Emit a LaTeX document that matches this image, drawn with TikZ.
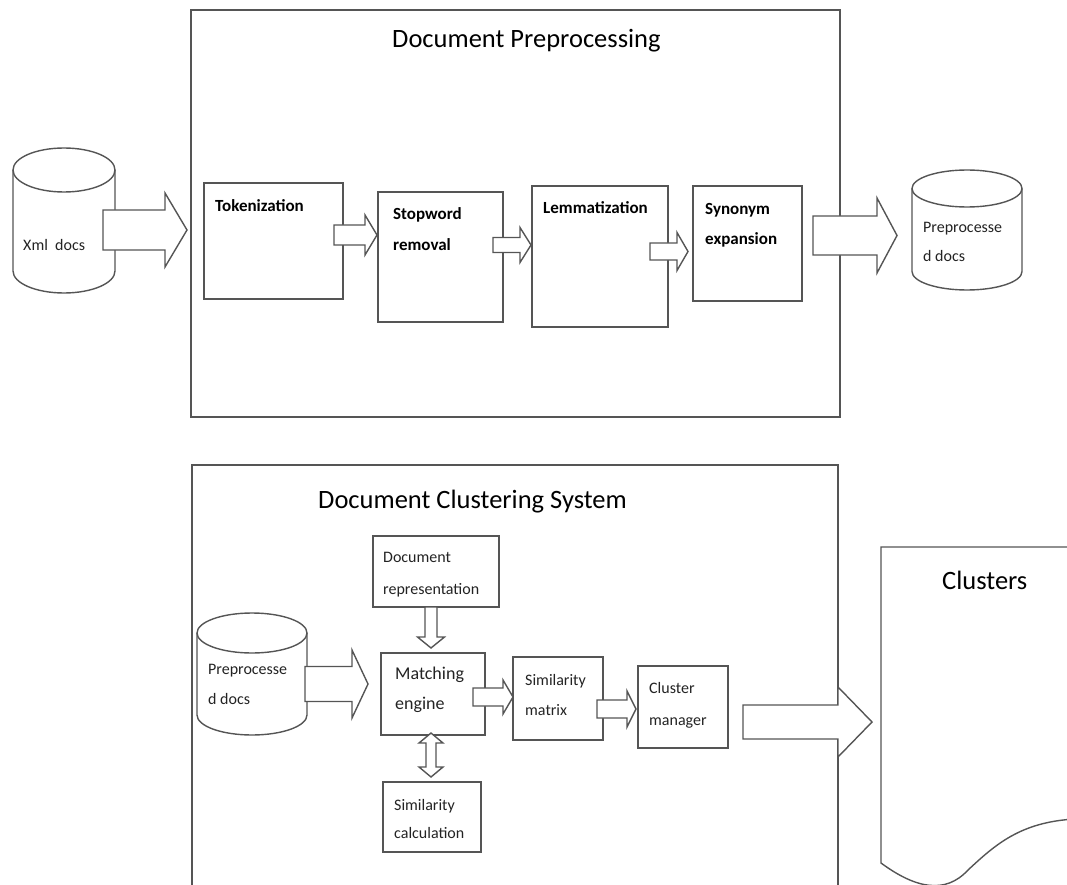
\documentclass[tikz,border=0pt]{standalone}
\usepackage{fontspec}
\setmainfont{Carlito}
\usepackage{xcolor}
\usepackage{tikz}
\usetikzlibrary{positioning, calc}

\definecolor{linegray}{RGB}{85,85,85}
\definecolor{textgray}{RGB}{35,35,35}

% block arrows: start, length, body half width, head half width, head length
\newcommand{\harrow}[5]{%
  \draw[blockarrow] #1 ++(0,-#3) -- ++({#2-#5},0) -- ++(0,{#3-#4}) -- ++(#5,#4)
    -- ++(-#5,#4) -- ++(0,{#3-#4}) -- ++({#5-#2},0) -- cycle;}
\newcommand{\varrow}[5]{%
  \draw[blockarrow] #1 ++(-#3,0) -- ++(0,{#2-#5}) -- ++({#3-#4},0) -- ++(#4,#5)
    -- ++(#4,-#5) -- ++({#3-#4},0) -- ++(0,{#5-#2}) -- cycle;}
\newcommand{\dvarrow}[5]{%
  \draw[blockarrow] #1 -- ++(-#4,#5) -- ++({#4-#3},0) -- ++(0,{#2-2*#5}) -- ++({#3-#4},0)
    -- ++(#4,#5) -- ++(#4,-#5) -- ++({#3-#4},0) -- ++(0,{2*#5-#2}) -- ++({#4-#3},0) -- cycle;}
% database drum: centre x, top y, bottom y, x radius, y radius
\newcommand{\dbcyl}[5]{%
  \draw[outline, fill=white] (#1-#4,#2) -- (#1-#4,#3) arc[start angle=180, end angle=0, x radius=#4, y radius=#5] -- (#1+#4,#2);
  \draw[outline] (#1,#2) ellipse[x radius=#4, y radius=#5];}

\begin{document}
\begin{tikzpicture}[
        x=1pt, y=-1pt,
        outline/.style={draw=linegray, line width=1.4pt},
        box/.style={rectangle, draw=linegray, line width=1.4pt, anchor=north west, inner sep=0pt, outer sep=0pt},
        blockarrow/.style={draw=linegray, line width=1.4pt, fill=white, line join=miter},
        lbl/.style={anchor=north west, inner sep=0pt, align=left, text=textgray, font={\fontsize{16}{#1}\selectfont}},
        lbl/.default=30,
        boldlbl/.style={lbl=#1, text=black, font={\bfseries\fontsize{17}{#1}\selectfont}},
        boldlbl/.default=30,
        heading/.style={anchor=north west, inner sep=0pt, font={\fontsize{26.5}{30}\selectfont}}
    ]
    \useasboundingbox (0,0) rectangle (1067,885);
    \clip (0,0) rectangle (1067,885);

    % Preprocessing stage
    \node[box, minimum width=649pt, minimum height=407pt] (prep) at (191,10) {};
    \node[heading] (preptitle) at (392,29.5) {Document Preprocessing};

    \dbcyl{64}{170}{271}{51}{22}
    \dbcyl{967}{188.5}{271.5}{55}{18.5}

    \node[box, minimum width=139pt, minimum height=116pt] (tok) at (204,183) {};
    \node[box, minimum width=125pt, minimum height=130pt] (stop) at (378,192) {};
    \node[box, minimum width=136pt, minimum height=141pt] (lem) at (532,186) {};
    \node[box, minimum width=109pt, minimum height=115pt] (syn) at (693,186) {};

    \harrow{($(tok.west)+(-101,-11)$)}{84}{20}{37}{22}
    \harrow{($(tok.east)+(-9,-6)$)}{43}{10}{20}{12}
    \harrow{($(stop.east)+(-10,-12)$)}{38}{7.5}{17.5}{11}
    \harrow{($(lem.east)+(-18,-5)$)}{38}{8.5}{19}{11}
    \harrow{($(syn.east)+(11,-8)$)}{84}{19.5}{37.5}{20}

    \node[lbl] (xml) at (23,239) {Xml~ docs};
    \node[lbl=29] (predocs) at (923,222) {Preprocesse\\d docs};
    \node[boldlbl] (toktext) at ($(tok.north west)+(11,16)$) {Tokenization};
    \node[boldlbl=31] (stoptext) at ($(stop.north west)+(15,15)$) {Stopword\\removal};
    \node[boldlbl] (lemtext) at ($(lem.north west)+(11,15)$) {Lemmatization};
    \node[boldlbl] (syntext) at ($(syn.north west)+(12,17)$) {Synonym\\expansion};

    % Clustering stage
    \node[box, minimum width=646pt, minimum height=440pt] (clus) at (192,465) {};
    \node[heading] (clustitle) at (318,490) {Document Clustering System};

    \dbcyl{252}{633}{715}{55}{20}

    \node[box, minimum width=126pt, minimum height=71pt] (rep) at (373,536) {};
    \node[box, minimum width=104pt, minimum height=82pt] (match) at (381,653) {};
    \node[box, minimum width=98pt, minimum height=70pt] (calc) at (383,782) {};
    \node[box, minimum width=90pt, minimum height=83pt] (smat) at (513,657) {};
    \node[box, minimum width=90pt, minimum height=82pt] (cmgr) at (638,666) {};

    % output document
    \draw[outline] (1075,547) -- (881,547) -- (881,863)
        .. controls (915,888) and (945,895) .. (968,870)
        .. controls (995,845) and (1020,822) .. (1075,819);
    \node[heading] (clusters) at (942,571) {Clusters};

    \varrow{($(rep.south)+(-5,0)$)}{41}{6}{13.5}{11}
    \dvarrow{($(match.south)+(-2,-2)$)}{44}{5}{12}{10}
    \harrow{($(match.west)+(-76,-10)$)}{63}{17.5}{34}{16}
    \harrow{($(match.east)+(-12,3)$)}{40}{9}{17}{10}
    \harrow{($(smat.east)+(-6,10.5)$)}{39}{9}{18}{9}
    \harrow{($(cmgr.east)+(15,15)$)}{129}{17}{35}{34}

    \node[lbl] (predocs2) at (208,664) {Preprocesse\\d docs};
    \node[lbl=32] (reptext) at ($(rep.north west)+(10,16)$) {Document\\representation};
    \node[lbl, font={\fontsize{18}{30}\selectfont}] (matchtext) at ($(match.north west)+(14,14)$) {Matching\\engine};
    \node[lbl=28] (calctext) at ($(calc.north west)+(11,17)$) {Similarity\\calculation};
    \node[lbl] (smattext) at ($(smat.north west)+(12,17)$) {Similarity\\matrix};
    \node[lbl=32] (cmgrtext) at ($(cmgr.north west)+(11,16)$) {Cluster\\manager};

\end{tikzpicture}
\end{document}
